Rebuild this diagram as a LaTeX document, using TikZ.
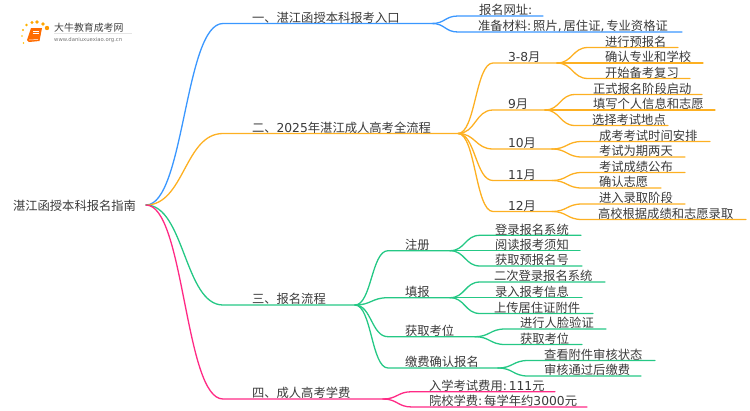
\documentclass[tikz,border=0pt]{standalone}
\usepackage{fontspec}
\usetikzlibrary{calc}
\setmainfont{Noto Sans CJK SC}
\newfontfamily\latinf{DejaVu Sans}
\newcommand{\lt}[1]{{\latinf #1}}
\newcommand{\gp}{\kern1.9pt\relax}
\definecolor{cblue}{HTML}{3A97FF}
\definecolor{corange}{HTML}{FDB022}
\definecolor{cgreen}{HTML}{25C885}
\definecolor{cpink}{HTML}{FF2A85}
\definecolor{ctext}{HTML}{3A3A3A}
\tikzset{
  lab/.style={anchor=base west,inner sep=0pt,outer sep=0pt,text=ctext,font=\fontsize{12.3}{12.3}\selectfont},
  conn/.style={line width=1.3pt,line cap=round,line join=round},
}
% \branch{name}{parent}{colour}{x start}{x end}{y}{text x}{text}
\newcommand{\branch}[8]{%
  \coordinate (#1-s) at (#4,#6);
  \coordinate (#1) at (#5,#6);
  \path let \p1=(#2), \p2=(#1-s) in
    coordinate (#1-a) at ({0.5*\x1+0.5*\x2},\y1)
    coordinate (#1-b) at ({0.5*\x1+0.5*\x2},\y2);
  \draw[conn,#3] (#2) .. controls (#1-a) and (#1-b) .. (#1-s) -- (#1);
  \node[lab] (#1-t) at (#7,#6-1.1) {#8};
}
\begin{document}
\begin{tikzpicture}[x=1pt,y=-1pt]
\useasboundingbox (0,0) rectangle (750,410);
\node[lab] (root) at (13,210) {湛江函授本科报名指南};
\coordinate (r) at (146,205);
% branch 1
\branch{a}{r}{cblue}{223}{432}{23.5}{252}{一、湛江函授本科报考入口}
\branch{a1}{a}{cblue}{458}{543}{16}{479}{报名网址\lt{:}}
\branch{a2}{a}{cblue}{458}{682}{32}{478}{准备材料\lt{:}\gp 照片\lt{,}\gp 居住证\lt{,}\gp 专业资格证}
% branch 2
\branch{b}{r}{corange}{223}{458}{133.5}{252}{二、\lt{2025}年湛江成人高考全流程}
\branch{b1}{b}{corange}{493}{557}{63}{508}{\lt{3-8}月}
\branch{b11}{b1}{corange}{588}{678}{47.5}{605}{进行预报名}
\branch{b12}{b1}{corange}{588}{703}{63}{605}{确认专业和学校}
\branch{b13}{b1}{corange}{588}{690}{78.5}{605}{开始备考复习}
\branch{b2}{b}{corange}{493}{545}{110}{508}{\lt{9}月}
\branch{b21}{b2}{corange}{575}{702}{94.5}{593}{正式报名阶段启动}
\branch{b22}{b2}{corange}{575}{715}{110}{593}{填写个人信息和志愿}
\branch{b23}{b2}{corange}{575}{668}{125.5}{592}{选择考试地点}
\branch{b3}{b}{corange}{493}{552}{149}{508}{\lt{10}月}
\branch{b31}{b3}{corange}{582}{710}{141.5}{599}{成考考试时间安排}
\branch{b32}{b3}{corange}{582}{685}{157}{599}{考试为期两天}
\branch{b4}{b}{corange}{493}{552}{180.5}{508}{\lt{11}月}
\branch{b41}{b4}{corange}{582}{685}{172.5}{599}{考试成绩公布}
\branch{b42}{b4}{corange}{582}{661}{188}{599}{确认志愿}
\branch{b5}{b}{corange}{493}{552}{211.5}{508}{\lt{12}月}
\branch{b51}{b5}{corange}{582}{685}{204}{599}{进入录取阶段}
\branch{b52}{b5}{corange}{582}{746}{219.5}{598}{高校根据成绩和志愿录取}
% branch 3
\branch{c}{r}{cgreen}{223}{355}{305}{252}{三、报名流程}
\branch{c1}{c}{cgreen}{388}{450}{250.7}{405}{注册}
\branch{c11}{c1}{cgreen}{480}{581}{235.3}{495}{登录报名系统}
\branch{c12}{c1}{cgreen}{480}{580}{250.7}{495}{阅读报考须知}
\branch{c13}{c1}{cgreen}{480}{582}{266}{495}{获取预报名号}
\branch{c2}{c}{cgreen}{388}{450}{297.7}{405}{填报}
\branch{c21}{c2}{cgreen}{480}{605}{282}{494}{二次登录报名系统}
\branch{c22}{c2}{cgreen}{480}{582}{297.7}{495}{录入报考信息}
\branch{c23}{c2}{cgreen}{480}{593}{313.5}{494}{上传居住证附件}
\branch{c3}{c}{cgreen}{388}{475}{336.7}{405}{获取考位}
\branch{c31}{c3}{cgreen}{505}{606}{329}{520}{进行人脸验证}
\branch{c32}{c3}{cgreen}{505}{582}{344.5}{520}{获取考位}
\branch{c4}{c}{cgreen}{388}{498}{368}{405}{缴费确认报名}
\branch{c41}{c4}{cgreen}{528}{655}{360.5}{544}{查看附件审核状态}
\branch{c42}{c4}{cgreen}{528}{641}{376}{544}{审核通过后缴费}
% branch 4
\branch{d}{r}{cpink}{223}{383}{399}{252}{四、成人高考学费}
\branch{d1}{d}{cpink}{412}{555}{391.7}{429}{入学考试费用\lt{:}\gp\lt{111}元}
\branch{d2}{d}{cpink}{412}{587}{407}{429}{院校学费\lt{:}\gp 每学年约\lt{3000}元}
% logo
\fill[orange!80!yellow] (47,28) circle (2.2);
\fill[orange!70!yellow] (43,24) circle (1.8);
\fill[orange!70!yellow] (37,22) circle (1.8);
\fill[orange!70!yellow] (32,22.5) circle (1.7);
\fill[orange!60!yellow] (26.5,25) circle (1.3);
\fill[orange!60!yellow] (23,30) circle (1.2);
\fill[orange!50!yellow] (22,36) circle (0.9);
\fill[orange!50!yellow] (23.5,43) circle (0.8);
\fill[orange!85!red] (31,28) -- (42,28) -- (39.5,41) -- (29,42) -- (27,40) -- cycle;
\draw[white,line width=0.5pt] (33,31) -- (39,31) (32.5,33.5) -- (38.5,33.5);
\draw[white,line width=0.5pt] (29,40) -- (38,39.5);
\node[anchor=base west,inner sep=0pt,text=black!75,font=\fontsize{9.9}{10}\selectfont] (logot) at (54,31) {大牛教育成考网};
\node[anchor=base west,inner sep=0pt,text=black!55,font=\latinf\fontsize{5.3}{6}\selectfont] (logou) at (54,41) {www.daniuxuexiao.org.cn};
\draw[black!10,line width=0.4pt] (54,33.5) -- (132,33.5);
\end{tikzpicture}
\end{document}
